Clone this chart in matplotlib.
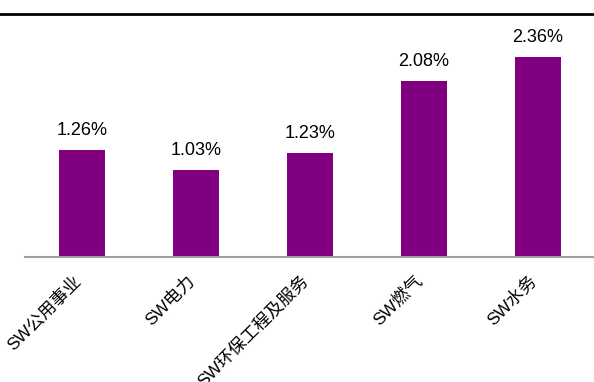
import matplotlib
matplotlib.use("Agg")
import matplotlib.pyplot as plt
from matplotlib.lines import Line2D
from matplotlib.transforms import ScaledTranslation

plt.rcParams['font.family'] = ['Liberation Sans', 'Noto Sans CJK SC']

categories = ['SW公用事业', 'SW电力', 'SW环保工程及服务', 'SW燃气', 'SW水务']
values = [1.26, 1.03, 1.23, 2.08, 2.36]
labels = ['1.26%', '1.03%', '1.23%', '2.08%', '2.36%']

fig = plt.figure(figsize=(5.94, 3.82), dpi=100)
ax = fig.add_axes([25 / 594, 125 / 382, 570 / 594, 237 / 382])

x = range(len(categories))
bars = ax.bar(x, values, width=0.4, color='#800080')
for xi, v, lab in zip(x, values, labels):
    ax.annotate(lab, (xi, v), xytext=(0, 8), textcoords='offset points',
                ha='center', va='bottom', fontsize=13, color='black')

ax.set_xlim(-0.5, 4.5)
ax.set_ylim(0, 2.8)
ax.set_xticks(list(x))
ax.set_xticklabels(categories, rotation=45, ha='right', rotation_mode='anchor',
                   fontsize=12.5)
ax.tick_params(axis='x', length=0, pad=11)
shift = ScaledTranslation(-7 / 72, 0, fig.dpi_scale_trans)
for t in ax.get_xticklabels():
    t.set_transform(t.get_transform() + shift)
ax.set_yticks([])
for s in ['top', 'right', 'left']:
    ax.spines[s].set_visible(False)
ax.spines['bottom'].set_color('#a0a0a0')
ax.spines['bottom'].set_linewidth(1.5)

fig.add_artist(Line2D([0, 1], [1 - 13.5 / 382, 1 - 13.5 / 382], color='black', lw=2,
                      transform=fig.transFigure))

fig.savefig('out.png', dpi=100)
